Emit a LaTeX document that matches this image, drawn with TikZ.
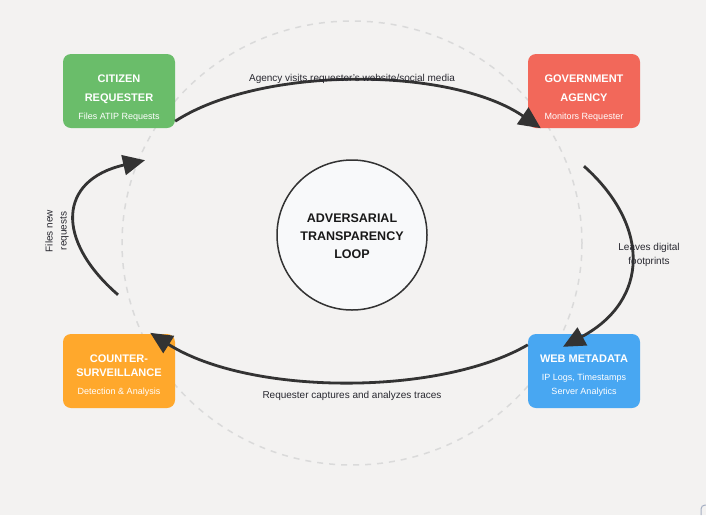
\documentclass[tikz,border=0pt]{standalone}
\usepackage{fontspec}
\setmainfont{Liberation Sans}
\usetikzlibrary{arrows.meta,calc}
\definecolor{bg}{RGB}{243,242,241}
\definecolor{cgreen}{RGB}{106,189,106}
\definecolor{cred}{RGB}{242,104,90}
\definecolor{corange}{RGB}{255,168,44}
\definecolor{cblue}{RGB}{72,167,242}
\definecolor{arrowc}{RGB}{51,51,51}
\definecolor{labc}{RGB}{40,40,48}
\definecolor{ringc}{RGB}{218,218,218}
\definecolor{loopfill}{RGB}{248,249,250}
\begin{document}
\begin{tikzpicture}[x=1pt,y=-1pt,
  box/.style={rounded corners=8pt, minimum width=112pt, minimum height=74pt, inner sep=0pt, draw=none},
  ttl/.style={anchor=base, text=white, font=\fontsize{11}{13}\selectfont\bfseries, inner sep=0pt},
  sub/.style={anchor=base, text=white, font=\fontsize{9}{11}\selectfont, inner sep=0pt},
  ctr/.style={anchor=base, text=black!90, font=\fontsize{12.5}{14}\selectfont\bfseries, inner sep=0pt},
  flow/.style={draw=arrowc, line width=2.8pt, -{Triangle[length=22pt,width=20pt]}},
  lbl/.style={anchor=base, text=labc, font=\fontsize{10}{12}\selectfont, inner sep=0pt}]
\fill[bg] (0,0) rectangle (706,515);
\useasboundingbox (0,0) rectangle (706,515);
% dashed ring
\draw[ringc, line width=1.5pt, dash pattern=on 6pt off 6pt] (352,243) ellipse [x radius=230, y radius=222];
% boxes
\node[box, fill=cgreen] (citizen) at (119,91) {};
\node[box, fill=cred] (gov) at (584,91) {};
\node[box, fill=corange] (counter) at (119,371) {};
\node[box, fill=cblue] (web) at (584,371) {};
% centre
\node[circle, minimum size=150pt, inner sep=0pt, draw=arrowc, line width=1.5pt, fill=loopfill] (loop) at (352,235) {};
\node[ctr] (l1) at (352,222.5) {ADVERSARIAL};
\node[ctr] (l2) at (352,240.5) {TRANSPARENCY};
\node[ctr] (l3) at (352,258.5) {LOOP};
% box texts
\node[ttl] (c1) at (119,82) {CITIZEN};
\node[ttl] (c2) at (119,101) {REQUESTER};
\node[sub] (c3) at (119,119.3) {Files ATIP Requests};
\node[ttl] (g1) at (584,82) {GOVERNMENT};
\node[ttl] (g2) at (584,101) {AGENCY};
\node[sub] (g3) at (584,119.3) {Monitors Requester};
\node[ttl] (s1) at (119,362) {COUNTER-};
\node[ttl] (s2) at (119,376.5) {SURVEILLANCE};
\node[sub] (s3) at (119,394) {Detection \& Analysis};
\node[ttl] (w1) at (584,362) {WEB METADATA};
\node[sub] (w2) at (584,380.3) {IP Logs, Timestamps};
\node[sub] (w3) at (584,394.3) {Server Analytics};
% connector ends
\coordinate (a1s) at ($(citizen.south east)+(0,-7)$);
\coordinate (a1e) at ($(gov.south west)+(13,0)$);
\coordinate (a2s) at ($(gov.south)+(0,38)$);
\coordinate (a2e) at ($(web.north)+(-21,13)$);
\coordinate (a3s) at ($(web.north west)+(0,11)$);
\coordinate (a3e) at ($(counter.north east)+(-25,-1)$);
\coordinate (a4s) at ($(counter.north)+(-1,-39)$);
\coordinate (a4e) at ($(citizen.south)+(26,32)$);
% connectors
\draw[flow] (a1s) .. controls (260,66) and (450,66) .. (a1e);
\draw[flow] (a2s) .. controls (650,225) and (650,300) .. (a2e);
\draw[flow] (a3s) .. controls (440,396) and (250,396) .. (a3e);
\draw[flow] (a4s) .. controls (55,240) and (58,180) .. (a4e);
% labels
\node[lbl] (t1) at (352,81.5) {Agency visits requester's website/social media};
\node[lbl] (t2a) at (649,250.5) {Leaves digital};
\node[lbl] (t2b) at (649,264) {footprints};
\node[lbl] (t3) at (352,398.5) {Requester captures and analyzes traces};
\node[rotate=90, align=center, text=labc, font=\fontsize{10}{14}\selectfont, inner sep=0pt] (t4) at (57,231) {Files new\\requests};
% corner artifact
\draw[draw={rgb,255:red,165;green,175;blue,195}, line width=1pt, rounded corners=4pt] (701,515) -- (701,505) -- (706,505);
\end{tikzpicture}
\end{document}
